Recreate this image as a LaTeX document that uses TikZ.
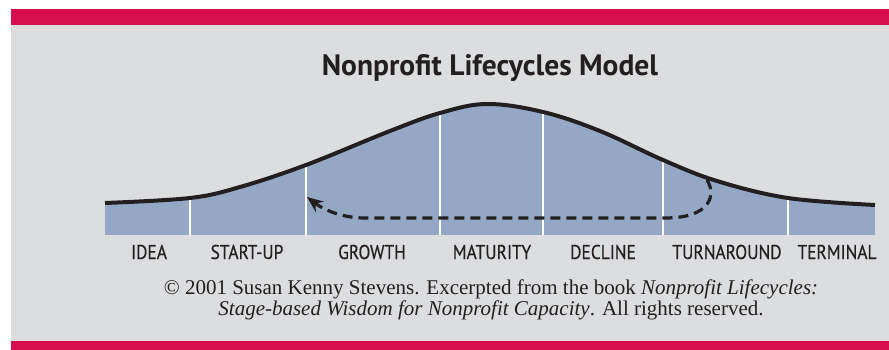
\documentclass[tikz,border=0pt]{standalone}
\usepackage{fontspec}
\usepackage{tikz}
\usetikzlibrary{arrows.meta}
\setmainfont{Liberation Serif}
\newfontfamily\stagefont[FakeStretch=0.87,FakeBold=0.4]{PT Sans}
\newfontfamily\titlefont{PT Sans}

\definecolor{bandred}{HTML}{D60E50}
\definecolor{panelgray}{HTML}{DCDDDF}
\definecolor{stageblue}{HTML}{94A8C6}
\definecolor{inkgray}{HTML}{231F20}

\tikzset{
  stagelabel/.style={text=inkgray,font=\stagefont\fontsize{20}{22}\selectfont,anchor=base},
  divider/.style={white,line width=2pt},
  lifecurve/.style={line width=4pt,inkgray},
  turnloop/.style={line width=3.2pt,inkgray,dash pattern=on 10pt off 6pt,-{Stealth[length=16pt,width=13pt]}}
}

\begin{document}
\begin{tikzpicture}[x=1pt,y=-1pt]
    \useasboundingbox (0,0) rectangle (889,350);
    %% panel and bands
    \fill[panelgray] (11,25) rectangle (889,341);
    \fill[bandred] (11,9) rectangle (889,25);
    \fill[bandred] (11,341) rectangle (889,350);

    \node[text=inkgray,font=\titlefont\bfseries\fontsize{29.5}{31}\selectfont,anchor=base] (title) at (490,76) {Nonprofit Lifecycles Model};

    %% area under the curve, with the stage dividers
    \begin{scope}
      \clip (105,235) -- plot[smooth,tension=0.6] coordinates {(105,203) (190,198) (240,187) (306,165) (390,131) (440,113) (487,104) (543,112) (600,131) (663,160) (717,181) (788,198) (875,205)} -- (875,235) -- cycle;
      \fill[stageblue] (105,235) rectangle (875,90);
      \foreach \x in {190,306,440,543,663,788}
        \draw[divider] (\x,236) -- (\x,90);
    \end{scope}
    \draw[lifecurve] plot[smooth,tension=0.6] coordinates {(105,203) (190,198) (240,187) (306,165) (390,131) (440,113) (487,104) (543,112) (600,131) (663,160) (717,181) (788,198) (875,205)};

    %% stages
    \node[stagelabel] (idea) at (149,259) {IDEA};
    \node[stagelabel] (startup) at (247,259) {START-UP};
    \node[stagelabel] (growth) at (372,259) {GROWTH};
    \node[stagelabel] (maturity) at (492,259) {MATURITY};
    \node[stagelabel] (decline) at (603,259) {DECLINE};
    \node[stagelabel] (turnaround) at (727,259) {TURNAROUND};
    \node[stagelabel] (terminal) at (837,259) {TERMINAL};

    %% turnaround loop back to growth
    \coordinate (loopstart) at (707,180);
    \coordinate (loopend) at (307,197);
    \draw[turnloop] (loopstart) .. controls (716,194) and (712,218) .. (665,218) -- (365,218) .. controls (338,218) and (320,207) .. (loopend);

    %% credit
    \node[text=inkgray,font=\fontsize{21}{21}\selectfont,align=center,anchor=north,inner sep=0pt] (credit) at (491,280)
      {\textcopyright{} 2001 Susan Kenny Stevens. Excerpted from the book \textit{Nonprofit Lifecycles:}\\
       \textit{Stage-based Wisdom for Nonprofit Capacity}. All rights reserved.};
  \end{tikzpicture}
\end{document}
